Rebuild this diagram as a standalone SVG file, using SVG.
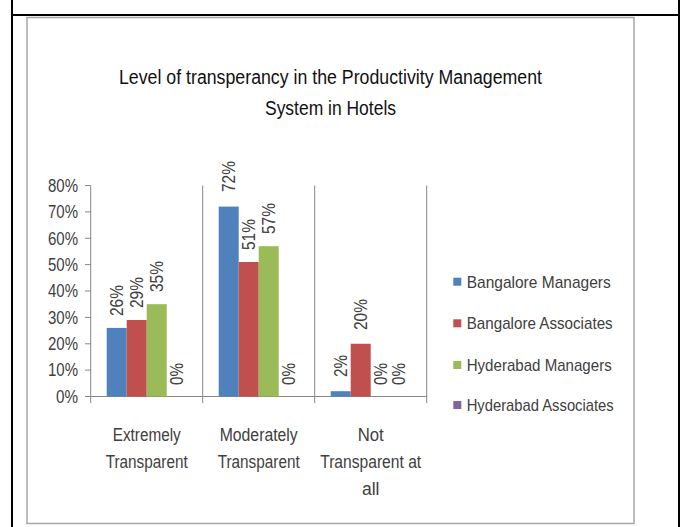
<svg xmlns="http://www.w3.org/2000/svg" width="681" height="527" viewBox="0 0 681 527">
<style>
text{font-family:"Liberation Sans",Arial,sans-serif;fill:#404040}
.title{font-size:20px;fill:#111;text-anchor:middle}
.ax{font-size:17.5px;text-anchor:end}
.cat{font-size:17.5px;text-anchor:middle}
.dl{font-size:17.5px}
.lg{font-size:17px}
.grid{stroke:#868686;stroke-width:1;fill:none}
.b1{fill:#4F81BD}.b2{fill:#C0504D}.b3{fill:#9BBB59}.b4{fill:#8064A2}
</style>
<rect width="681" height="527" fill="#fff"/>
<g id="table-border" stroke="#000" stroke-width="2" fill="none">
<line x1="12" y1="0" x2="12" y2="527"/>
<line x1="679" y1="0" x2="679" y2="527"/>
<line x1="11" y1="15" x2="680" y2="15"/>
</g>
<g id="chart-frame">
<rect x="27" y="17.5" width="607" height="506" fill="#fff" stroke="#a6a6a6" stroke-width="1.5"/>
</g>
<g id="title">
<text class="title" x="330.5" y="84" textLength="423" lengthAdjust="spacingAndGlyphs">Level of transperancy in the Productivity Management</text>
<text class="title" x="330.5" y="115" textLength="131" lengthAdjust="spacingAndGlyphs">System in Hotels</text>
</g>
<g id="axes" class="grid">
<line x1="90.7" y1="185.5" x2="90.7" y2="403"/>
<line x1="85" y1="396.5" x2="426.7" y2="396.5"/>
<line x1="202.7" y1="185.5" x2="202.7" y2="403"/>
<line x1="314.7" y1="185.5" x2="314.7" y2="403"/>
<line x1="426.7" y1="185.5" x2="426.7" y2="403"/>
<path d="M85 185.5H90.7M85 211.9H90.7M85 238.3H90.7M85 264.6H90.7M85 291H90.7M85 317.4H90.7M85 343.8H90.7M85 370.1H90.7"/>
</g>
<g id="y-labels">
<text class="ax" x="78" y="191.8" textLength="30" lengthAdjust="spacingAndGlyphs">80%</text>
<text class="ax" x="78" y="218.2" textLength="30" lengthAdjust="spacingAndGlyphs">70%</text>
<text class="ax" x="78" y="244.6" textLength="30" lengthAdjust="spacingAndGlyphs">60%</text>
<text class="ax" x="78" y="270.9" textLength="30" lengthAdjust="spacingAndGlyphs">50%</text>
<text class="ax" x="78" y="297.3" textLength="30" lengthAdjust="spacingAndGlyphs">40%</text>
<text class="ax" x="78" y="323.7" textLength="30" lengthAdjust="spacingAndGlyphs">30%</text>
<text class="ax" x="78" y="350.1" textLength="30" lengthAdjust="spacingAndGlyphs">20%</text>
<text class="ax" x="78" y="376.4" textLength="30" lengthAdjust="spacingAndGlyphs">10%</text>
<text class="ax" x="78" y="402.8" textLength="22" lengthAdjust="spacingAndGlyphs">0%</text>
</g>
<g id="bars">
<rect class="b1" x="106.7" y="327.9" width="20" height="68.6"/>
<rect class="b2" x="126.7" y="320" width="20" height="76.5"/>
<rect class="b3" x="146.7" y="304.2" width="20" height="92.3"/>
<rect class="b1" x="218.7" y="206.6" width="20" height="189.9"/>
<rect class="b2" x="238.7" y="262" width="20" height="134.5"/>
<rect class="b3" x="258.7" y="246.2" width="20" height="150.3"/>
<rect class="b1" x="330.7" y="391.2" width="20" height="5.3"/>
<rect class="b2" x="350.7" y="343.75" width="20" height="52.75"/>
</g>
<g id="data-labels">
<text class="dl" transform="translate(123,316) rotate(-90)" textLength="31" lengthAdjust="spacingAndGlyphs">26%</text>
<text class="dl" transform="translate(143,308) rotate(-90)" textLength="31" lengthAdjust="spacingAndGlyphs">29%</text>
<text class="dl" transform="translate(163,292) rotate(-90)" textLength="31" lengthAdjust="spacingAndGlyphs">35%</text>
<text class="dl" transform="translate(183,385) rotate(-90)" textLength="22" lengthAdjust="spacingAndGlyphs">0%</text>
<text class="dl" transform="translate(235,192) rotate(-90)" textLength="31" lengthAdjust="spacingAndGlyphs">72%</text>
<text class="dl" transform="translate(255,250) rotate(-90)" textLength="31" lengthAdjust="spacingAndGlyphs">51%</text>
<text class="dl" transform="translate(275,234) rotate(-90)" textLength="31" lengthAdjust="spacingAndGlyphs">57%</text>
<text class="dl" transform="translate(295,385) rotate(-90)" textLength="22" lengthAdjust="spacingAndGlyphs">0%</text>
<text class="dl" transform="translate(347,377) rotate(-90)" textLength="22" lengthAdjust="spacingAndGlyphs">2%</text>
<text class="dl" transform="translate(367,330) rotate(-90)" textLength="31" lengthAdjust="spacingAndGlyphs">20%</text>
<text class="dl" transform="translate(387,385) rotate(-90)" textLength="22" lengthAdjust="spacingAndGlyphs">0%</text>
<text class="dl" transform="translate(405,385) rotate(-90)" textLength="22" lengthAdjust="spacingAndGlyphs">0%</text>
</g>
<g id="category-labels">
<text class="cat" x="146.7" y="441" textLength="68" lengthAdjust="spacingAndGlyphs">Extremely</text>
<text class="cat" x="146.7" y="467.5" textLength="82" lengthAdjust="spacingAndGlyphs">Transparent</text>
<text class="cat" x="258.7" y="441" textLength="78" lengthAdjust="spacingAndGlyphs">Moderately</text>
<text class="cat" x="258.7" y="467.5" textLength="82" lengthAdjust="spacingAndGlyphs">Transparent</text>
<text class="cat" x="370.7" y="441" textLength="26" lengthAdjust="spacingAndGlyphs">Not</text>
<text class="cat" x="370.7" y="467.5" textLength="101" lengthAdjust="spacingAndGlyphs">Transparent at</text>
<text class="cat" x="370.7" y="495">all</text>
</g>
<g id="legend">
<rect class="b1" x="453.3" y="277.7" width="8" height="8"/>
<text class="lg" x="466.7" y="287.7" textLength="144" lengthAdjust="spacingAndGlyphs">Bangalore  Managers</text>
<rect class="b2" x="453.3" y="319.3" width="8" height="8"/>
<text class="lg" x="466.7" y="329.3" textLength="146" lengthAdjust="spacingAndGlyphs">Bangalore  Associates</text>
<rect class="b3" x="453.3" y="361" width="8" height="8"/>
<text class="lg" x="466.7" y="371" textLength="145" lengthAdjust="spacingAndGlyphs">Hyderabad Managers</text>
<rect class="b4" x="453.3" y="401" width="8" height="8"/>
<text class="lg" x="466.7" y="411" textLength="147" lengthAdjust="spacingAndGlyphs">Hyderabad Associates</text>
</g>
</svg>
